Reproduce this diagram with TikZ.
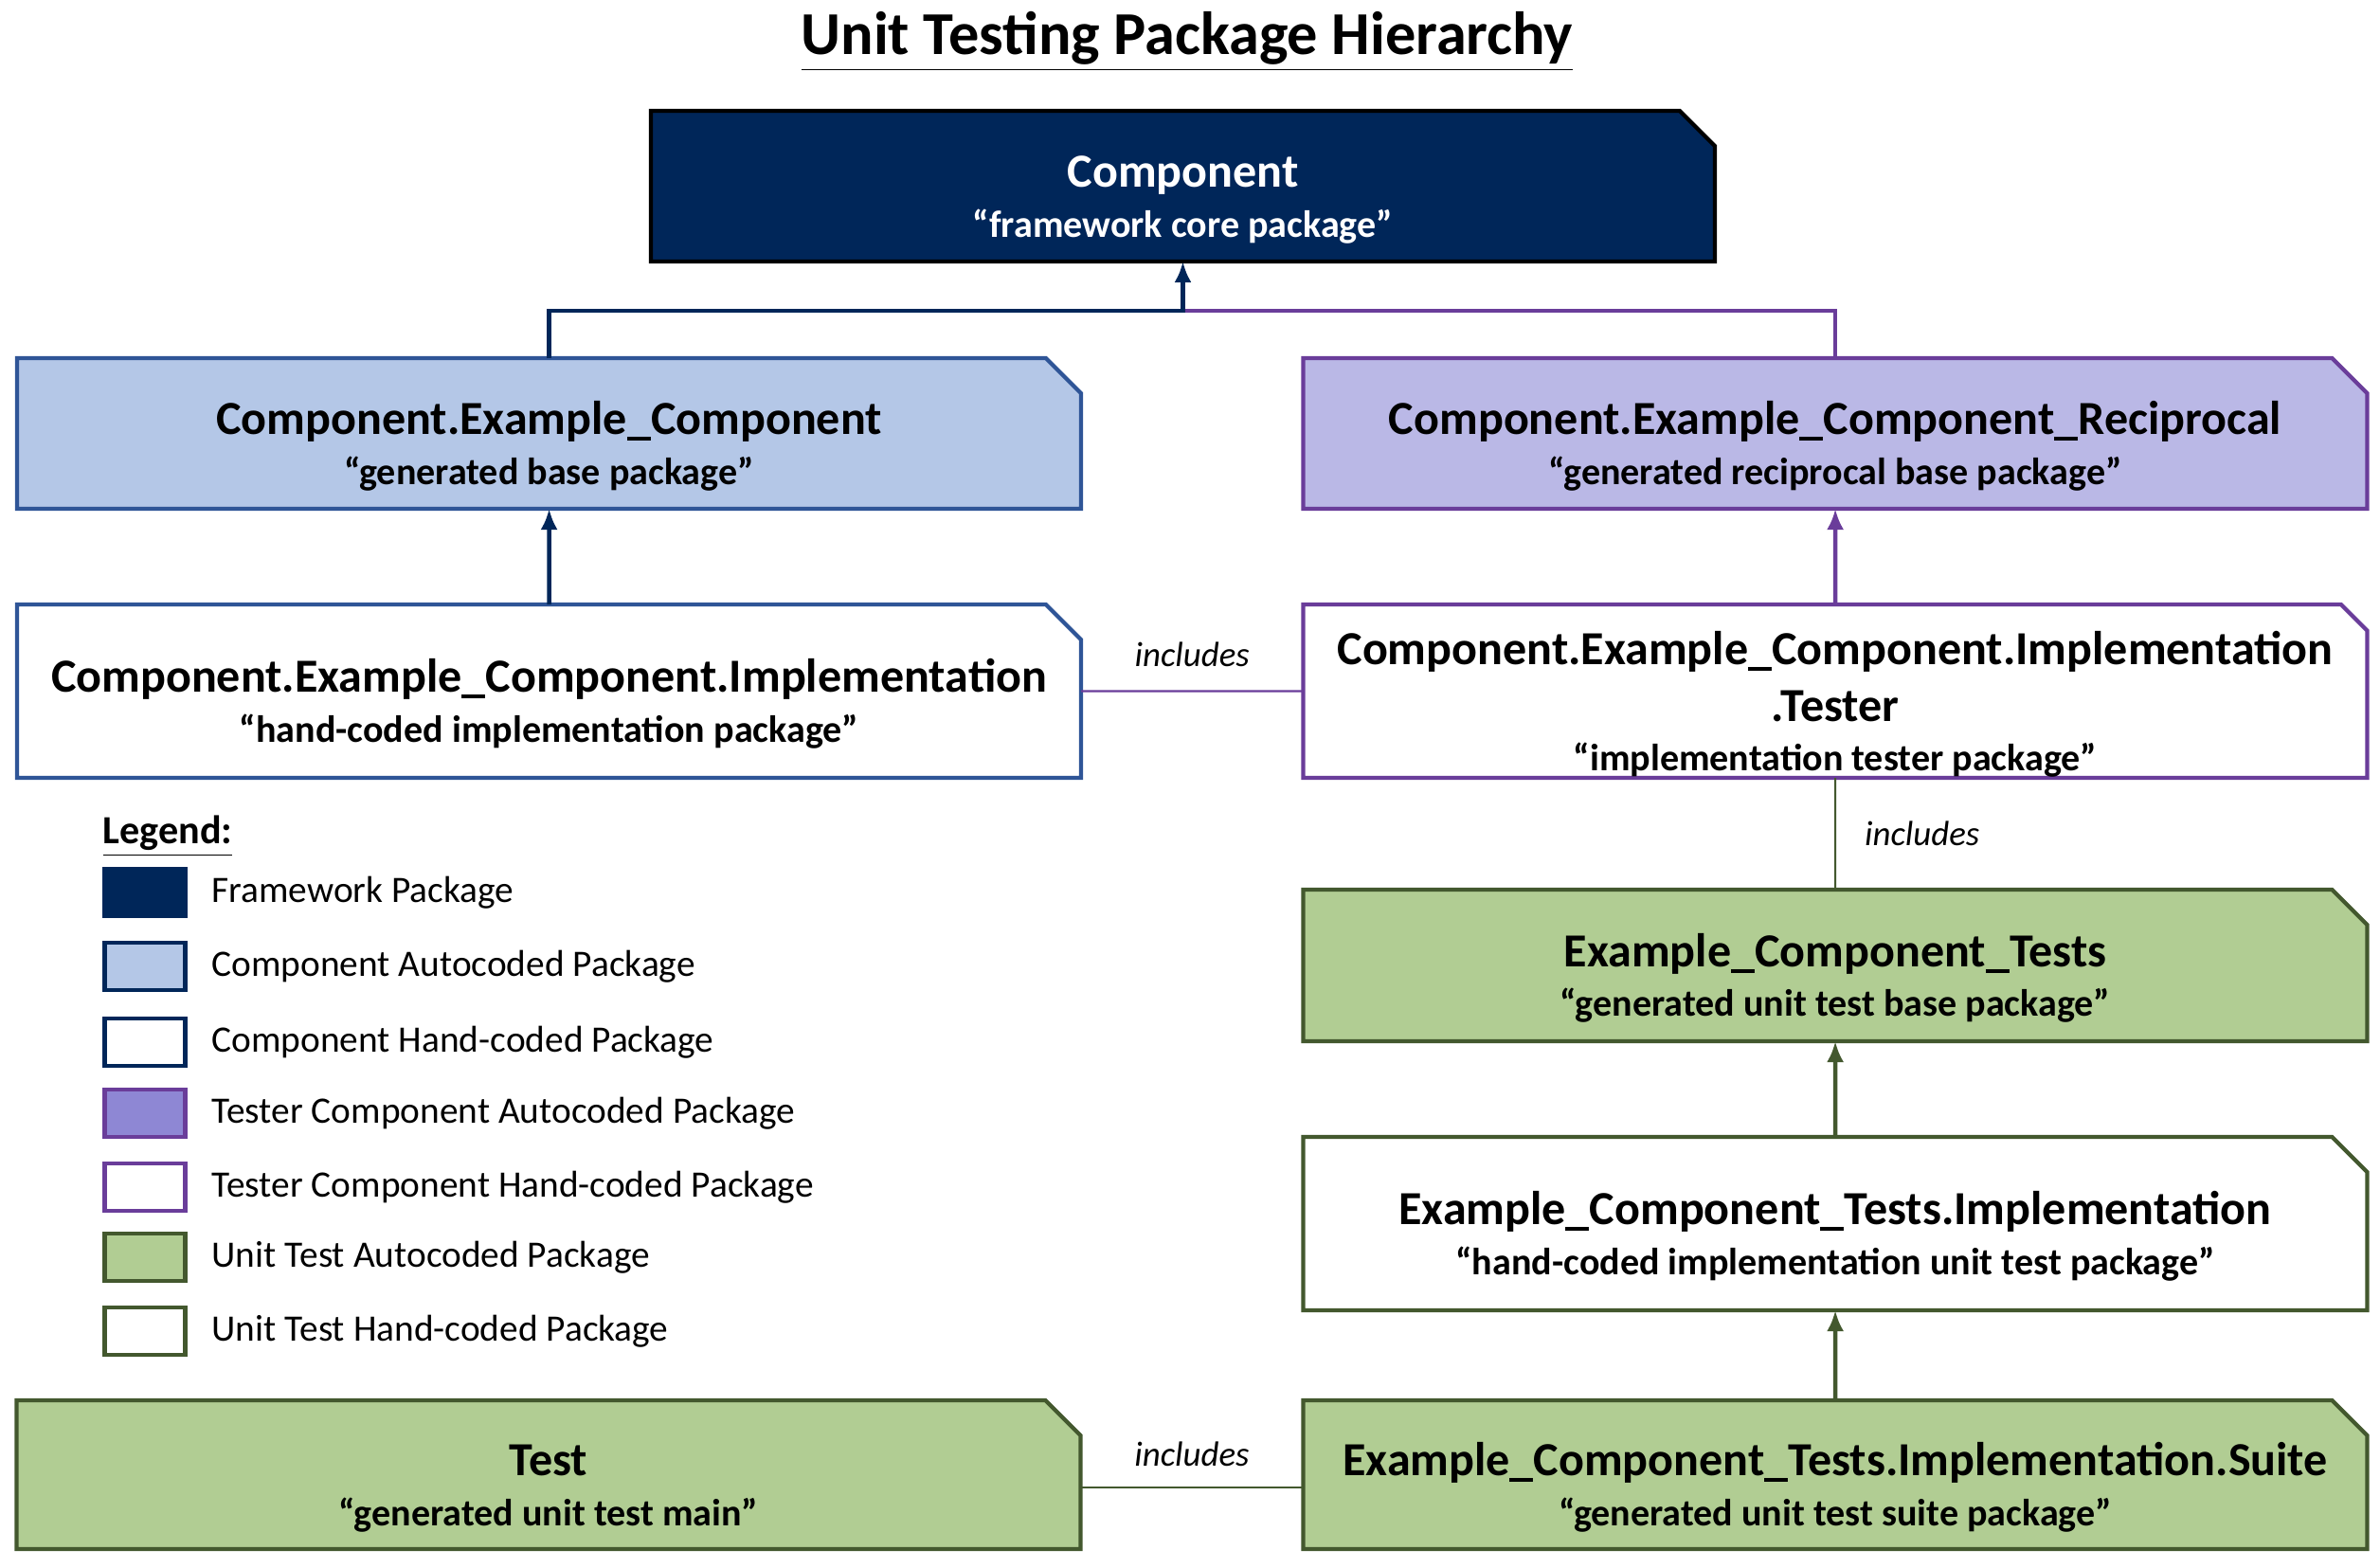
\documentclass[tikz,border=0pt]{standalone}
\usepackage{fontspec}
\setmainfont{Carlito}
\usepackage{xcolor}
\usetikzlibrary{shapes.misc,arrows.meta,positioning}

\definecolor{azulosc}{HTML}{002659}
\definecolor{azulbase}{HTML}{B4C7E7}
\definecolor{azulborde}{HTML}{2F5597}
\definecolor{lila}{HTML}{BAB8E6}
\definecolor{lilaley}{HTML}{8E87D4}
\definecolor{morado}{HTML}{6A3D9A}
\definecolor{verde}{HTML}{B1CD93}
\definecolor{verdeosc}{HTML}{43582E}

\newcommand{\subtxt}{\fontsize{11.4}{13}\selectfont}
\newcommand{\paqtxt}[2]{\rule{0pt}{17.5pt}#1\\{\subtxt #2}}

\begin{document}
\begin{tikzpicture}[
  paqfont/.style = {align=center, font=\fontsize{14.25}{15}\selectfont\bfseries},
  paq/.style = {chamfered rectangle, chamfered rectangle corners=north east,
      chamfered rectangle xsep=0.26cm, chamfered rectangle angle=45,
      draw, line width=1.2pt, inner sep=0pt, outer sep=0pt,
      minimum width=11.23cm, minimum height=1.59cm, paqfont},
  alto/.style = {minimum height=1.83cm},
  ley/.style = {chamfered rectangle, chamfered rectangle corners=north east,
      chamfered rectangle xsep=0.08cm, draw, line width=1.4pt,
      inner sep=0pt, minimum width=0.85cm, minimum height=0.5cm},
  leytxt/.style = {anchor=west, inner sep=0pt, font=\fontsize{11.2}{13}\selectfont},
  flecha/.style = {line width=1.3pt, -{Latex[length=2.2mm,width=1.8mm]}},
  incl/.style = {line width=0.6pt},
  etiq/.style = {font=\fontsize{10.5}{12}\selectfont\itshape, inner sep=0pt, text=black}
]
\useasboundingbox (0,0) rectangle (25.12,-16.54);

\node[font=\fontsize{18.3}{21}\selectfont\bfseries] (T) at (12.53,-0.44) {\underline{Unit Testing Package Hierarchy}};

% Nodos
\node[paq, fill=azulosc, draw=black, text=white] (A) at (12.485,-1.965) {\paqtxt{Component}{“framework core package”}};
\node[paq, fill=azulbase, draw=azulborde] (B) at (5.795,-4.575) {\paqtxt{Component.Example\_Component}{“generated base package”}};
\node[paq, fill=lila, draw=morado] (C) at (19.37,-4.575) {\paqtxt{Component.Example\_Component\_Reciprocal}{“generated reciprocal base package”}};
\node[paq, alto, fill=white, draw=azulborde, below=1.01cm of B] (D) {\paqtxt{Component.Example\_Component.Implementation}{“hand-coded implementation package”}};
\node[paq, alto, fill=white, draw=morado, below=1.01cm of C] (E) {\phantom{.Tester}};
\node[paqfont, inner sep=0pt] (Et) at ([yshift=-0.14cm]E.center) {Component.Example\_Component.Implementation\\[2pt].Tester\\{\subtxt “implementation tester package”}};
\node[paq, minimum height=1.6cm, fill=verde, draw=verdeosc, below=1.18cm of E] (F) {\paqtxt{Example\_Component\_Tests}{“generated unit test base package”}};
\node[paq, alto, fill=white, draw=verdeosc, below=1.01cm of F] (G) {\paqtxt{Example\_Component\_Tests.Implementation}{“hand-coded implementation unit test package”}};
\node[paq, minimum height=1.57cm, fill=verde, draw=verdeosc, below=0.95cm of G] (H) {\paqtxt{Example\_Component\_Tests.Implementation.Suite}{“generated unit test suite package”}};
\node[paq, minimum height=1.57cm, fill=verde, draw=verdeosc, left=2.35cm of H] (I) {\paqtxt{Test}{“generated unit test main”}};

% Conexiones
\coordinate (J) at ([yshift=-0.52cm]A.south);
\draw[morado, line width=1.3pt] (C.north) |- (J);
\draw[azulosc, flecha] (B.north) |- (J) -- (A.south);
\draw[azulosc, flecha] (D) -- (B);
\draw[morado, flecha] (E) -- (C);
\draw[verdeosc, flecha] (G) -- (F);
\draw[verdeosc, flecha] (H) -- (G);
\draw[morado, incl] (D) -- node[etiq, above=0.25cm] (K1) {includes} (E);
\draw[verdeosc, incl] (E) -- node[etiq, right=0.3cm] (K2) {includes} (F);
\draw[verdeosc, incl] ([yshift=-0.135cm]I.east) -- node[etiq, above=0.21cm] (K3) {includes} ([yshift=-0.135cm]H.west);

% Leyenda
\node[anchor=west, inner sep=0pt, font=\fontsize{12}{14}\selectfont\bfseries] (L) at (1.08,-8.83) {\underline{Legend:}};
\node[ley, fill=azulosc, draw=azulosc] (L1) at (1.53,-9.42) {};
\node[leytxt, right=0.25cm of L1] (L1t) {Framework Package};
\node[ley, fill=azulbase, draw=azulosc] (L2) at (1.53,-10.20) {};
\node[leytxt, right=0.25cm of L2] (L2t) {Component Autocoded Package};
\node[ley, fill=white, draw=azulosc] (L3) at (1.53,-11.00) {};
\node[leytxt, right=0.25cm of L3] (L3t) {Component Hand-coded Package};
\node[ley, fill=lilaley, draw=morado] (L4) at (1.53,-11.75) {};
\node[leytxt, right=0.25cm of L4] (L4t) {Tester Component Autocoded Package};
\node[ley, fill=white, draw=morado] (L5) at (1.53,-12.53) {};
\node[leytxt, right=0.25cm of L5] (L5t) {Tester Component Hand-coded Package};
\node[ley, fill=verde, draw=verdeosc] (L6) at (1.53,-13.27) {};
\node[leytxt, right=0.25cm of L6] (L6t) {Unit Test Autocoded Package};
\node[ley, fill=white, draw=verdeosc] (L7) at (1.53,-14.05) {};
\node[leytxt, right=0.25cm of L7] (L7t) {Unit Test Hand-coded Package};

\end{tikzpicture}
\end{document}
